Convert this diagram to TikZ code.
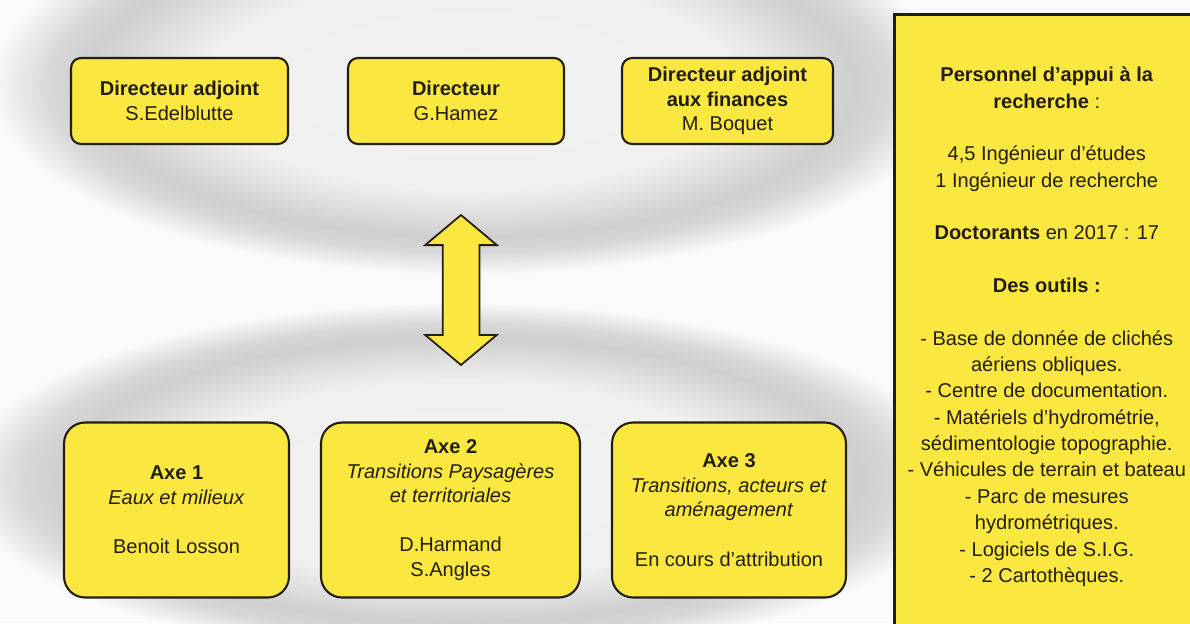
\documentclass[tikz,border=0pt]{standalone}
\usepackage{fontspec}
\setmainfont{Liberation Sans}
\usepackage{tikz}
\usetikzlibrary{shapes.arrows}

\definecolor{boxyellow}{RGB}{250,232,64}
\definecolor{ink}{RGB}{34,30,20}
\definecolor{paper}{RGB}{250,250,250}
\pgfdeclareradialshading{halo}{\pgfpoint{0bp}{0bp}}{color(0bp)=(black!5); color(14bp)=(black!6); color(20bp)=(black!19); color(22bp)=(black!15); color(25bp)=(paper); color(50bp)=(paper)}

\begin{document}
\begin{tikzpicture}[x=0.02cm, y=-0.02cm,
		leadbox/.style={rectangle, rounded corners=0.2cm, minimum height=1.72cm},
		axebox/.style={rectangle, rounded corners=0.42cm, minimum height=3.5cm},
		staffbox/.style={rectangle, line width=1.5pt, minimum width=6.1cm, minimum height=12.5cm},
		link/.style={double arrow, rotate=90, minimum height=3cm, inner sep=0.35cm,
			double arrow head extend=0.35cm, double arrow tip angle=100}]
	\useasboundingbox (0,0) rectangle (1190,623);
	\clip (0,0) rectangle (1190,623);
	\fill[paper] (0,0) rectangle (1190,623);
	\shade[shading=halo] (470,85) ellipse [x radius=480, y radius=190];
	\shade[shading=halo] (460,480) ellipse [x radius=500, y radius=178];

	\begin{scope}[every node/.style={draw=ink, line width=1.2pt, fill=boxyellow, text=ink,
			align=center, font=\fontsize{11.4}{14}\selectfont}]
		\node[leadbox, minimum width=4.34cm] (adjoint) at (179.5,101) {\textbf{Directeur adjoint}\\S.Edelblutte};
		\node[leadbox, minimum width=4.32cm] (director) at (456,101) {\textbf{Directeur}\\G.Hamez};
		\node[leadbox, minimum width=4.22cm] (finance) at (727.5,101) {\textbf{Directeur adjoint}\\\textbf{aux finances}\\M. Boquet};

		\node[axebox, minimum width=4.5cm] (axe1) at (176.5,510) {\textbf{Axe 1}\\\textit{Eaux et milieux}\\[14pt]Benoit Losson};
		\node[axebox, minimum width=5.18cm] (axe2) at (450.5,510) {\textbf{Axe 2}\\\textit{Transitions Paysagères}\\\textit{et territoriales}\\[14pt]D.Harmand\\S.Angles};
		\node[axebox, minimum width=4.68cm] (axe3) at (729,510) {\textbf{Axe 3}\\\textit{Transitions, acteurs et}\\\textit{aménagement}\\[14pt]En cours d’attribution};

		\node[link, line width=1pt] (link) at (461,290) {};

		\node[staffbox, anchor=north west, font=\fontsize{11.4}{15}\selectfont] (staff) at (893,13)
			{\textbf{Personnel d’appui à la}\\\textbf{recherche} :\\[15pt]
			4,5 Ingénieur d’études\\1 Ingénieur de recherche\\[15pt]
			\textbf{Doctorants} en 2017 : 17\\[15pt]
			\textbf{Des outils :}\\[15pt]
			- Base de donnée de clichés\\aériens obliques.\\- Centre de documentation.\\
			- Matériels d’hydrométrie,\\sédimentologie topographie.\\
			- Véhicules de terrain et bateau\\- Parc de mesures\\hydrométriques.\\
			- Logiciels de S.I.G.\\- 2 Cartothèques.};
	\end{scope}
\end{tikzpicture}
\end{document}
